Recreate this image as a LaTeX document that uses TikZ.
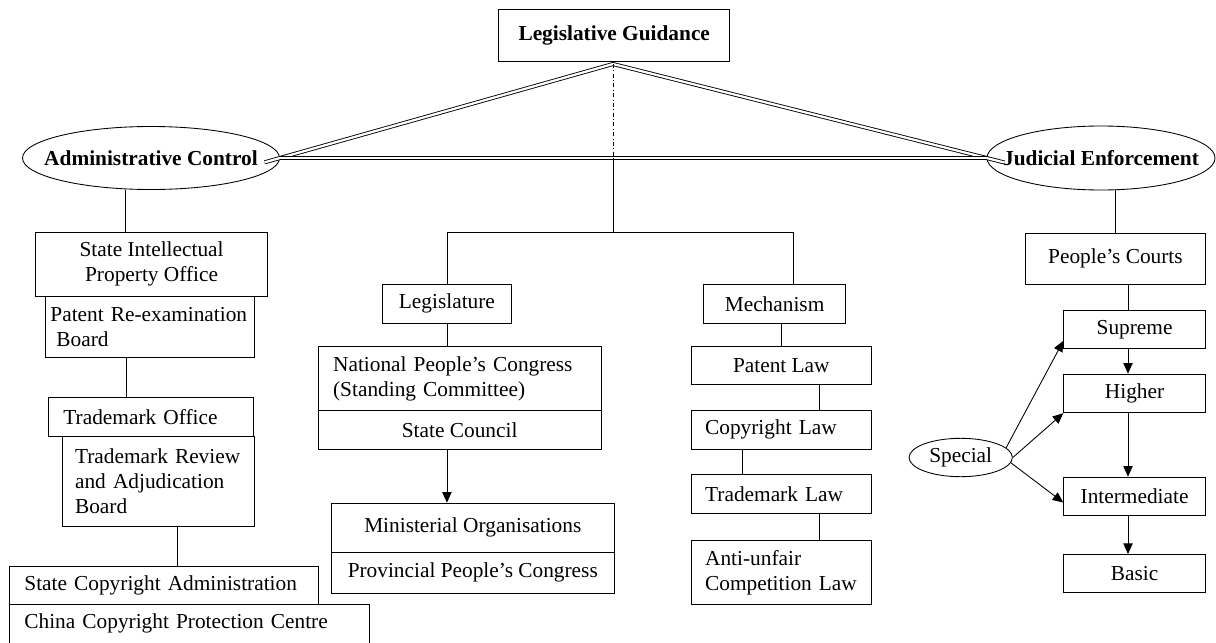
\documentclass[tikz,border=0pt]{standalone}
\usepackage{fontspec}
\setmainfont{Liberation Serif}
\usetikzlibrary{shapes.geometric,arrows.meta}

\tikzset{
  blk/.style={draw, rectangle, anchor=north west, inner sep=0pt, align=center},
  wh/.style 2 args={minimum width=#1*0.75pt, minimum height=#2*0.75pt},
  lft/.style 2 args={inner xsep=#2, text width=#1, align=left},
  oval/.style={draw, ellipse, inner sep=0pt},
  dbl/.style={double, double distance=1.7pt, line width=0.65pt},
  arr/.style={-{Triangle[length=8pt,width=7pt]}},
  dashdotline/.style={dash pattern=on 3pt off 1.8pt on 0.7pt off 1.8pt}
}

\begin{document}
\begin{tikzpicture}[x=0.75pt,y=0.75pt,yscale=-1,xscale=1,line width=0.65pt,font=\fontsize{16}{18.75}\selectfont]
\useasboundingbox (0,0) rectangle (1216,642);

% Text Node
\node [blk, wh={231}{51.7}] (guide) at (498.3,9.3) {\textbf{Legislative Guidance}};
%Shape: Ellipse
\node [oval, wh={257}{63}, label=center:{\textbf{Administrative Control}}] (admin) at (151,158) {};
%Shape: Ellipse
\node [oval, wh={228}{64}, label=center:{\textbf{Judicial Enforcement}}] (judic) at (1101,158) {};

%Shape: Rectangle
\node [blk, wh={232.3}{64}] (sipo) at (35,231.7) {State Intellectual\\Property Office};
%Shape: Rectangle
\node [blk, wh={209}{61}, lft={149.25pt}{3.75pt}] (prb) at (45,295.7) {Patent Re-examination\\\hspace*{4.5pt}Board};
%Shape: Rectangle
\node [blk, wh={205}{39}, lft={131.25pt}{11.25pt}] (tmo) at (48,397) {Trademark Office};
%Shape: Rectangle
\node [blk, wh={192}{89.7}, lft={125pt}{9.5pt}] (trab) at (62,436) {Trademark Review\\and Adjudication\\Board};
%Shape: Rectangle
\node [blk, wh={308.4}{38}, lft={209.3pt}{11pt}] (sca) at (9.3,566) {State Copyright Administration};
%Shape: Rectangle
\node [blk, wh={360}{38.5}, lft={248pt}{11pt}] (ccpc) at (9.3,604) {China Copyright Protection Centre};

%Shape: Rectangle
\node [blk, wh={129}{38.7}] (legis) at (382,284) {Legislature};
%Shape: Rectangle
\node [blk, wh={141.7}{38.7}] (mech) at (703.3,284) {Mechanism};
%Shape: Rectangle
\node [blk, wh={283}{64}, lft={189.75pt}{11.25pt}] (npc) at (317.7,346) {National People’s Congress\\(Standing Committee)};
%Shape: Rectangle
\node [blk, wh={283}{38.7}] (sc) at (317.7,410) {State Council};
%Shape: Rectangle
\node [blk, wh={283.3}{49.3}] (mo) at (330.7,502.7) {Ministerial Organisations};
%Shape: Rectangle
\node [blk, wh={283.3}{40.7}] (pc) at (330.7,552) {Provincial People’s Congress};

%Shape: Rectangle
\node [blk, wh={180.3}{38.3}] (patent) at (690.7,346) {Patent Law};
%Shape: Rectangle
\node [blk, wh={180.3}{38.7}, lft={114.2pt}{10.5pt}] (copy) at (690.7,410) {Copyright Law};
%Shape: Rectangle
\node [blk, wh={180.3}{39}, lft={114.2pt}{10.5pt}] (tm) at (690.7,474.3) {Trademark Law};
%Shape: Rectangle
\node [blk, wh={180.3}{64.3}, lft={114.2pt}{10.5pt}] (anti) at (690.7,540) {Anti-unfair\\Competition Law};

%Shape: Rectangle
\node [blk, wh={180}{51.3}] (courts) at (1025,232.7) {People’s Courts};
%Shape: Rectangle
\node [blk, wh={141.7}{38.3}] (sup) at (1063.3,310) {Supreme};
%Shape: Rectangle
\node [blk, wh={141.7}{38.6}] (hi) at (1063.3,373.7) {Higher};
%Shape: Rectangle
\node [blk, wh={141.7}{38.3}] (inter) at (1063.3,476.7) {Intermediate};
%Shape: Rectangle
\node [blk, wh={141.7}{38.3}] (basic) at (1063.3,554) {Basic};
%Shape: Ellipse
\node [oval, wh={103.3}{38.4}] (special) at (960.7,457.5) {Special};

\coordinate (apex) at (613,64);
\coordinate (hub) at (613,232.7);

%Double Lines
\draw [dbl, shorten <=-12pt, shorten >=-14pt] (admin.east) -- (apex) -- (judic.west);
\draw [dbl] (admin.east) -- (judic.west);
%Straight Lines
\draw [dashdotline] (apex) -- (apex |- admin.east);
\draw (apex |- admin.east) -- (hub);
\draw (hub) -| (legis.north);
\draw (hub) -| (mech.north -| 793,0);

%Straight Lines
\draw (admin.south -| 125,0) -- (sipo.north -| 125,0);
\draw (prb.south -| 126,0) -- (tmo.north -| 126,0);
\draw (trab.south -| 177,0) -- (sca.north -| 177,0);

%Straight Lines
\draw (legis.south) -- (npc.north -| legis.south);
\draw [arr] (sc.south -| legis.south) -- (mo.north -| legis.south);
\draw (mech.south -| patent.north) -- (patent.north);
\draw (patent.south -| 819,0) -- (copy.north -| 819,0);
\draw (copy.south -| 742,0) -- (tm.north -| 742,0);
\draw (tm.south -| 819,0) -- (anti.north -| 819,0);

%Straight Lines
\draw (courts.north |- judic.south) -- (courts.north);
\draw (courts.south -| 1128,0) -- (sup.north -| 1128,0);
\draw [arr] (sup.south -| 1128,0) -- (hi.north -| 1128,0);
\draw [arr] (hi.south -| 1128,0) -- (inter.north -| 1128,0);
\draw [arr] (inter.south -| 1128,0) -- (basic.north -| 1128,0);
\draw [arr] (special.12) -- (sup.-171);
\draw [arr] (special.east) -- (hi.south west);
\draw [arr] (special.-6) -- (inter.-175);

\end{tikzpicture}
\end{document}
